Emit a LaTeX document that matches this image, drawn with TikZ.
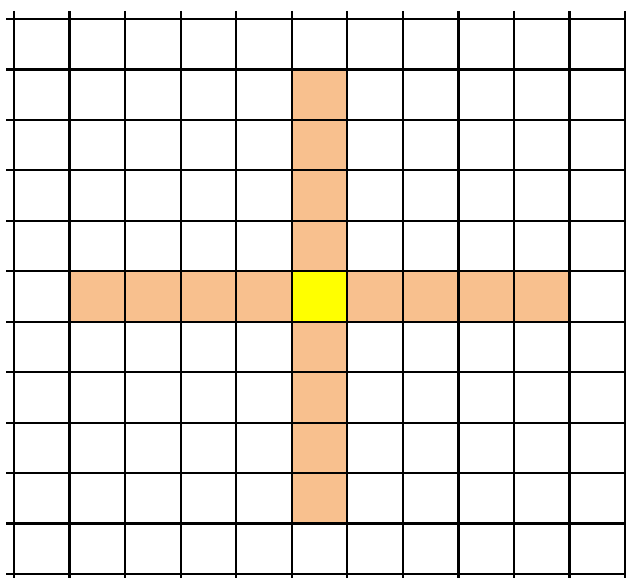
\documentclass[tikz,border=0pt]{standalone}
\definecolor{peach}{RGB}{248,192,142}
\definecolor{centre}{RGB}{255,255,0}
\begin{document}
\begin{tikzpicture}[x=1pt,y=-1pt,
  gridline/.style={line width=2.2pt,black},
  armcell/.style={fill=peach},
  centrecell/.style={fill=centre}]
\useasboundingbox (0,0) rectangle (626,578);
\fill[white] (0,0) rectangle (626,578);
% cell geometry
\def\xo{14}\def\dx{55.55}
\def\yo{19}\def\dy{50.45}
% vertical arm
\foreach \j in {1,...,9}{
  \fill[armcell] ({\xo+5*\dx},{\yo+\j*\dy}) rectangle ({\xo+6*\dx},{\yo+(\j+1)*\dy});
}
% horizontal arm
\foreach \i in {1,...,9}{
  \fill[armcell] ({\xo+\i*\dx},{\yo+5*\dy}) rectangle ({\xo+(\i+1)*\dx},{\yo+6*\dy});
}
\fill[centrecell] ({\xo+5*\dx},{\yo+5*\dy}) rectangle ({\xo+6*\dx},{\yo+6*\dy});
% grid
\foreach \i in {0,...,11}{
  \draw[gridline] ({\xo+\i*\dx},11) -- ({\xo+\i*\dx},578);
  \draw[gridline] (6,{\yo+\i*\dy}) -- (626,{\yo+\i*\dy});
}
\end{tikzpicture}
\end{document}
